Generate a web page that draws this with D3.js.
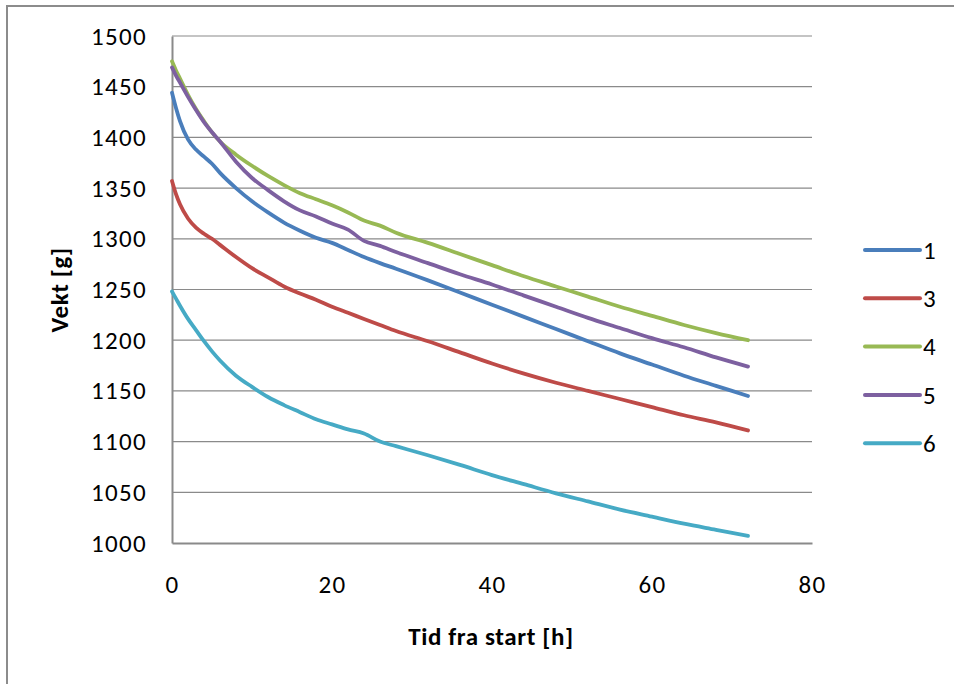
<!DOCTYPE html>
<html>
<head>
<meta charset="utf-8">
<script src="https://cdn.jsdelivr.net/npm/d3@7"></script>
<style>
  html, body { margin: 0; padding: 0; background: #fff; }
  svg { display: block; }
  text { font-family: Carlito, Lato, "Open Sans", sans-serif; fill: #000; }
</style>
</head>
<body>
<svg id="chart" width="954" height="684"></svg>
<script>
// Sample times (hours since start)
const hours = [0, 0.5, 1, 2, 3, 4, 5, 6, 8, 10, 12, 14, 16, 18, 20, 22, 24, 26, 28,
               32, 36, 40, 44, 48, 52, 56, 60, 64, 68, 72];

// Weight (g) of each sample at the times above
const weight1 = [1444, 1429, 1416, 1398, 1388, 1381, 1374, 1365, 1350, 1337, 1326, 1316, 1308, 1301, 1296, 1289, 1282, 1276, 1270.5,
                 1259, 1247, 1235, 1223, 1211, 1199, 1187, 1176, 1165, 1155, 1145];
const weight3 = [1357, 1344, 1334, 1320, 1311, 1305, 1300, 1294, 1282, 1271, 1262, 1253, 1246, 1240, 1233, 1227, 1221, 1215, 1209,
                 1199, 1188, 1177, 1167, 1158, 1150, 1142, 1134, 1126, 1119, 1111];
const weight4 = [1475, 1466, 1458, 1442, 1428, 1416, 1405, 1396, 1383, 1372, 1362, 1353, 1345, 1339, 1333, 1326, 1318, 1313, 1306,
                 1296, 1285, 1274, 1263, 1253, 1243, 1233, 1224, 1215, 1207, 1200];
const weight5 = [1469, 1461, 1454, 1440, 1427, 1415, 1405, 1396, 1376, 1360, 1348, 1337, 1328, 1322, 1315, 1309, 1298, 1293, 1287,
                 1276, 1265, 1255, 1244, 1233, 1222, 1212, 1202, 1193, 1183, 1174];
const weight6 = [1248, 1241, 1234, 1221, 1210, 1199, 1189, 1180, 1165, 1154, 1144, 1136, 1129, 1122, 1117, 1112, 1108, 1100, 1095.5,
                 1086.5, 1077, 1067, 1058, 1049, 1041, 1033, 1026, 1019, 1013, 1007];

const seriesNames = ["1", "3", "4", "5", "6"];
const seriesValues = [weight1, weight3, weight4, weight5, weight6];
const seriesColors = ["#4A7EBB", "#BE4B48", "#98B954", "#7D60A0", "#46AAC5"];

const yTicks = [1000, 1050, 1100, 1150, 1200, 1250, 1300, 1350, 1400, 1450, 1500];
const xTicks = [0, 20, 40, 60, 80];

const xTitle = "Tid fra start [h]";
const yTitle = "Vekt [g]";

const svg = d3.select("#chart");

// Outer frame (left and top edges)
svg.append("line").attr("x1", 7).attr("x2", 7).attr("y1", 6).attr("y2", 684)
  .attr("stroke", "#8c8c8c").attr("stroke-width", 2);
svg.append("line").attr("x1", 6).attr("x2", 954).attr("y1", 6).attr("y2", 6)
  .attr("stroke", "#8c8c8c").attr("stroke-width", 2);

const plot = { left: 172, right: 812, top: 36, bottom: 543 };

const x = d3.scaleLinear().domain([0, 80]).range([plot.left, plot.right]);
const y = d3.scaleLinear().domain([1000, 1500]).range([plot.bottom, plot.top]);

// Horizontal gridlines
svg.append("g")
  .selectAll("line")
  .data(yTicks.filter(v => v > 1000))
  .join("line")
  .attr("x1", plot.left).attr("x2", plot.right)
  .attr("y1", d => y(d)).attr("y2", d => y(d))
  .attr("stroke", "#8a8a8a").attr("stroke-width", 1.2);

// Y axis
const yAxis = svg.append("g")
  .attr("transform", `translate(${plot.left},0)`)
  .call(d3.axisLeft(y).tickValues(yTicks).tickSize(0).tickPadding(25).tickFormat(d3.format("d")));
yAxis.select(".domain").attr("stroke", "#8a8a8a").attr("stroke-width", 2);
yAxis.selectAll("text").style("font-size", "25px").style("letter-spacing", "1.3px").attr("fill", "#000");

// X axis
const xAxis = svg.append("g")
  .attr("transform", `translate(0,${plot.bottom})`)
  .call(d3.axisBottom(x).tickValues(xTicks).tickSize(0).tickPadding(32).tickFormat(d3.format("d")));
xAxis.select(".domain").attr("stroke", "#8a8a8a").attr("stroke-width", 2);
xAxis.selectAll("text").style("font-size", "25px").style("letter-spacing", "1.3px").attr("fill", "#000");

// Axis titles
svg.append("text")
  .attr("x", (plot.left + plot.right) / 2 - 1)
  .attr("y", 645)
  .attr("text-anchor", "middle")
  .style("font-size", "25px").style("font-weight", "bold").style("letter-spacing", "0.6px")
  .text(xTitle);

svg.append("text")
  .attr("transform", "translate(68,290) rotate(-90)")
  .attr("text-anchor", "middle")
  .style("font-size", "25px").style("font-weight", "bold").style("letter-spacing", "0.6px")
  .text(yTitle);

// Series lines
const line = d3.line()
  .x((d, i) => x(hours[i]))
  .y(d => y(d))
  .curve(d3.curveMonotoneX);

svg.append("g")
  .selectAll("path")
  .data(seriesValues)
  .join("path")
  .attr("d", d => line(d))
  .attr("fill", "none")
  .attr("stroke", (d, i) => seriesColors[i])
  .attr("stroke-width", 3.8)
  .attr("stroke-linecap", "round")
  .attr("stroke-linejoin", "round");

// Legend
const legend = svg.append("g")
  .selectAll("g")
  .data(seriesNames)
  .join("g")
  .attr("transform", (d, i) => `translate(865,${250 + i * 48.3})`);
legend.append("line")
  .attr("x1", 0).attr("x2", 55).attr("y1", 0).attr("y2", 0)
  .attr("stroke", (d, i) => seriesColors[i])
  .attr("stroke-width", 4).attr("stroke-linecap", "round");
legend.append("text")
  .attr("x", 58).attr("y", 0).attr("dy", "0.35em")
  .style("font-size", "25px")
  .text(d => d);
</script>
</body>
</html>
